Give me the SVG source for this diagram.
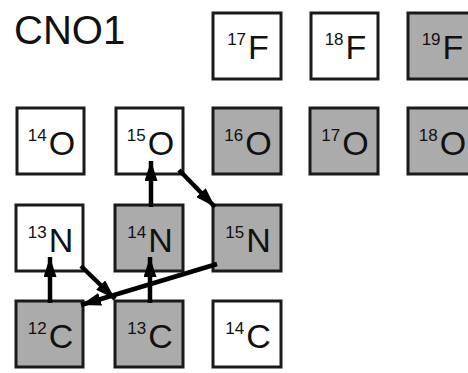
<svg xmlns="http://www.w3.org/2000/svg" width="468" height="373" viewBox="0 0 468 373">
  <style>
    .box { stroke: #1a1a1a; stroke-width: 3; }
    .open { fill: #ffffff; }
    .shade { fill: #ababab; }
    .lbl { font-family: "Liberation Sans", Arial, sans-serif; fill: #111; text-anchor: middle; }
    .sup { font-size: 17px; }
    .el { font-size: 34px; }
    .title { font-family: "Liberation Sans", Arial, sans-serif; font-size: 40px; fill: #111; }
    .flow { stroke: #000; stroke-width: 4.5; fill: none; marker-end: url(#head); }
  </style>
  <defs>
    <marker id="head" markerUnits="userSpaceOnUse" markerWidth="22" markerHeight="13" refX="20" refY="6.5" orient="auto">
      <path d="M0,0 L20,6.5 L0,13 z" fill="#000"/>
    </marker>
  </defs>

  <rect width="468" height="373" fill="#ffffff"/>

  <text class="title" x="14" y="44">CNO1</text>

  <!-- fluorine row -->
  <g id="F17"><rect class="box open" x="213" y="13" width="68" height="66"/>
    <text class="lbl" x="248" y="59"><tspan class="sup" dy="-14">17</tspan><tspan class="el" dx="2" dy="14">F</tspan></text></g>
  <g id="F18"><rect class="box open" x="311" y="13" width="67" height="66"/>
    <text class="lbl" x="345.5" y="59"><tspan class="sup" dy="-14">18</tspan><tspan class="el" dx="2" dy="14">F</tspan></text></g>
  <g id="F19"><rect class="box shade" x="408" y="13" width="67" height="66"/>
    <text class="lbl" x="442.5" y="59"><tspan class="sup" dy="-14">19</tspan><tspan class="el" dx="2" dy="14">F</tspan></text></g>

  <!-- oxygen row -->
  <g id="O14"><rect class="box open" x="17" y="108" width="67" height="66"/>
    <text class="lbl" x="51.5" y="155"><tspan class="sup" dy="-14">14</tspan><tspan class="el" dx="2" dy="14">O</tspan></text></g>
  <g id="O15"><rect class="box open" x="116" y="108" width="67" height="66"/>
    <text class="lbl" x="150.5" y="155"><tspan class="sup" dy="-14">15</tspan><tspan class="el" dx="2" dy="14">O</tspan></text></g>
  <g id="O16"><rect class="box shade" x="213" y="108" width="68" height="66"/>
    <text class="lbl" x="248" y="155"><tspan class="sup" dy="-14">16</tspan><tspan class="el" dx="2" dy="14">O</tspan></text></g>
  <g id="O17"><rect class="box shade" x="310" y="108" width="68" height="66"/>
    <text class="lbl" x="345" y="155"><tspan class="sup" dy="-14">17</tspan><tspan class="el" dx="2" dy="14">O</tspan></text></g>
  <g id="O18"><rect class="box shade" x="408" y="108" width="67" height="66"/>
    <text class="lbl" x="442.5" y="155"><tspan class="sup" dy="-14">18</tspan><tspan class="el" dx="2" dy="14">O</tspan></text></g>

  <!-- nitrogen row -->
  <g id="N13"><rect class="box open" x="16" y="205" width="67" height="66"/>
    <text class="lbl" x="50.5" y="252"><tspan class="sup" dy="-14">13</tspan><tspan class="el" dx="2" dy="14">N</tspan></text></g>
  <g id="N14"><rect class="box shade" x="115" y="205" width="68" height="66"/>
    <text class="lbl" x="150" y="252"><tspan class="sup" dy="-14">14</tspan><tspan class="el" dx="2" dy="14">N</tspan></text></g>
  <g id="N15"><rect class="box shade" x="213" y="205" width="68" height="66"/>
    <text class="lbl" x="248" y="252"><tspan class="sup" dy="-14">15</tspan><tspan class="el" dx="2" dy="14">N</tspan></text></g>

  <!-- carbon row -->
  <g id="C12"><rect class="box shade" x="16" y="301" width="67" height="66"/>
    <text class="lbl" x="50.5" y="348"><tspan class="sup" dy="-14">12</tspan><tspan class="el" dx="2" dy="14">C</tspan></text></g>
  <g id="C13"><rect class="box shade" x="115" y="301" width="68" height="66"/>
    <text class="lbl" x="150" y="348"><tspan class="sup" dy="-14">13</tspan><tspan class="el" dx="2" dy="14">C</tspan></text></g>
  <g id="C14"><rect class="box open" x="213" y="301" width="68" height="66"/>
    <text class="lbl" x="248" y="348"><tspan class="sup" dy="-14">14</tspan><tspan class="el" dx="2" dy="14">C</tspan></text></g>

  <!-- reaction cycle -->
  <g id="connectors">
    <line class="flow" x1="50" y1="303" x2="50" y2="257"/>
    <line class="flow" x1="81" y1="266" x2="115" y2="299"/>
    <line class="flow" x1="150" y1="303" x2="150" y2="257"/>
    <line class="flow" x1="151" y1="207" x2="151" y2="161"/>
    <line class="flow" x1="179" y1="170" x2="215" y2="207"/>
    <line class="flow" x1="217" y1="264" x2="81" y2="305"/>
  </g>
</svg>
